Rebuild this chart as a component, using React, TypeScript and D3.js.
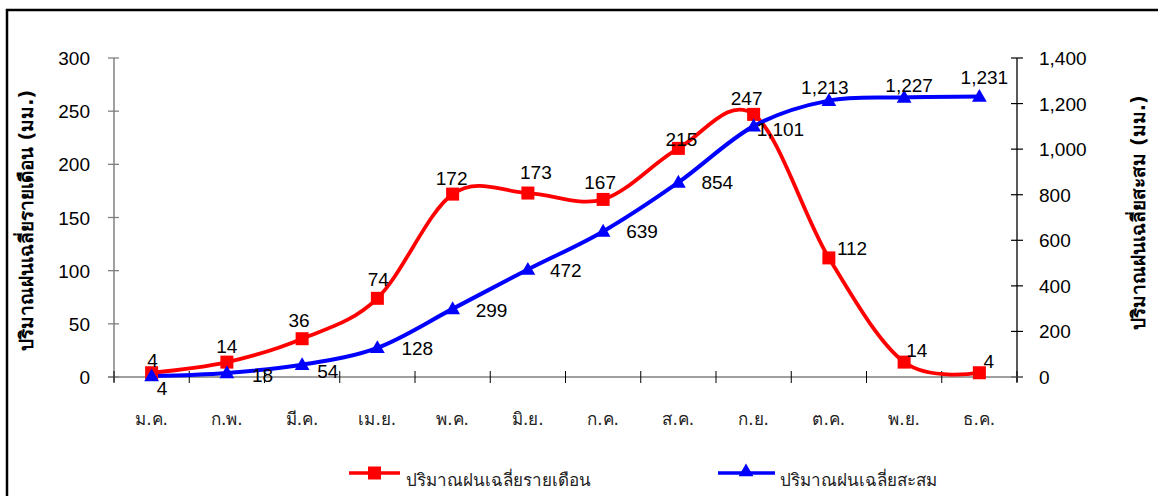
import React from "react";
import * as d3 from "d3";

const months = ["ม.ค.", "ก.พ.", "มี.ค.", "เม.ย.", "พ.ค.", "มิ.ย.", "ก.ค.", "ส.ค.", "ก.ย.", "ต.ค.", "พ.ย.", "ธ.ค."];
const monthly = [4, 14, 36, 74, 172, 173, 167, 215, 247, 112, 14, 4];
const cumulative = [4, 18, 54, 128, 299, 472, 639, 854, 1101, 1213, 1227, 1231];
const leftTicks = [0, 50, 100, 150, 200, 250, 300];
const rightTicks = [0, 200, 400, 600, 800, 1000, 1200, 1400];
const seriesNames = ["ปริมาณฝนเฉลี่ยรายเดือน", "ปริมาณฝนเฉลี่ยสะสม"];
const leftTitle = "ปริมาณฝนเฉลี่ยรายเดือน (มม.)";
const rightTitle = "ปริมาณฝนเฉลี่ยสะสม (มม.)";

// hand-placed label offsets (dx, dy of text anchor relative to marker)
const redLabelOff: [number, number, string][] = [
  [1, -6, "middle"], [0, -9, "middle"], [-3, -12, "middle"], [1, -12, "middle"],
  [-1, -9, "middle"], [8, -14, "middle"], [-3, -10, "middle"], [3, -2, "middle"],
  [-7, -9, "middle"], [8, -3, "start"], [2, -5, "start"], [4, -5, "start"],
];
const blueLabelOff: [number, number, string][] = [
  [5, 19, "start"], [25, 9, "start"], [15, 13, "start"], [24, 7, "start"],
  [23, 8, "start"], [22, 8, "start"], [23, 7, "start"], [23, 7, "start"],
  [3, 10, "start"], [-4, -7, "middle"], [5, -5, "middle"], [5, -13, "middle"],
];

const W = 1158, H = 496;
const L = 114, R = 1017, T = 58, B = 377;
const NUM_FONT = "'Liberation Sans', Arial, sans-serif";
const THAI_FONT = "Tahoma, 'DejaVu Sans', 'Liberation Sans', sans-serif";

export default function App() {
  const x = d3.scaleBand<string>().domain(months).range([L, R]);
  const cx = (i: number) => (x(months[i]) as number) + x.bandwidth() / 2;
  const yL = d3.scaleLinear().domain([0, 300]).range([B, T]);
  const yR = d3.scaleLinear().domain([0, 1400]).range([B, T]);
  const fmt = d3.format(",");
  const curve = d3.curveCatmullRom.alpha(0);
  const redLine = d3.line<number>().x((_, i) => cx(i)).y((d) => yL(d)).curve(curve)(monthly) || "";
  const blueLine = d3.line<number>().x((_, i) => cx(i)).y((d) => yR(d)).curve(curve)(cumulative) || "";
  const tri = d3.symbol().type(d3.symbolTriangle).size(95)() || "";
  const axisCol = "#808080";
  const boundaries = d3.range(months.length + 1).map((i) => L + i * x.bandwidth());

  return (
    <svg width={W} height={H} style={{ position: "absolute", left: 0, top: 0, display: "block", background: "#fff" }}>
      <rect x={7} y={10} width={1200} height={600} fill="#fff" stroke="#000" strokeWidth={2.5} />
      {/* left axis */}
      <line x1={L} x2={L} y1={T} y2={B + 5} stroke={axisCol} strokeWidth={1.5} />
      {leftTicks.map((t) => (
        <g key={"l" + t}>
          <line x1={L - 6} x2={L + 5} y1={yL(t)} y2={yL(t)} stroke={axisCol} strokeWidth={1.3} />
          <text x={90} y={yL(t) + 7} textAnchor="end" fontFamily={NUM_FONT} fontSize={19}>{t}</text>
        </g>
      ))}
      {/* right axis */}
      <line x1={R} x2={R} y1={T} y2={B + 5} stroke="#000" strokeWidth={1.3} />
      {rightTicks.map((t) => (
        <g key={"r" + t}>
          <line x1={R - 6} x2={R + 6} y1={yR(t)} y2={yR(t)} stroke="#000" strokeWidth={1.2} />
          <text x={1039} y={yR(t) + 7} textAnchor="start" fontFamily={NUM_FONT} fontSize={19}>{fmt(t)}</text>
        </g>
      ))}
      {/* x axis */}
      <line x1={L - 6} x2={R + 6} y1={B} y2={B} stroke={axisCol} strokeWidth={1.5} />
      {boundaries.map((b, i) => (
        <line key={"xt" + i} x1={b} x2={b} y1={B - 6} y2={B + 6} stroke="#000" strokeWidth={1} />
      ))}
      {months.map((m, i) => (
        <text key={m} x={cx(i)} y={425} textAnchor="middle" fontFamily={THAI_FONT} fontSize={17} fill="#222">{m}</text>
      ))}
      {/* axis titles */}
      <text transform={`translate(33,${(T + B) / 2 + 3}) rotate(-90)`} textAnchor="middle" fontFamily={THAI_FONT} fontWeight="bold" fontSize={19}>{leftTitle}</text>
      <text transform={`translate(1145,${(T + B) / 2 - 5}) rotate(-90)`} textAnchor="middle" fontFamily={THAI_FONT} fontWeight="bold" fontSize={19}>{rightTitle}</text>
      {/* series */}
      <path d={redLine} fill="none" stroke="#ff0000" strokeWidth={3.8} />
      <path d={blueLine} fill="none" stroke="#0000ff" strokeWidth={4} />
      {monthly.map((v, i) => (
        <rect key={"rs" + i} x={cx(i) - 6.5} y={yL(v) - 6.5} width={13} height={13} fill="#ff0000" />
      ))}
      {cumulative.map((v, i) => (
        <path key={"bt" + i} d={tri} transform={`translate(${cx(i)},${yR(v) + 1})`} fill="#0000ff" />
      ))}
      {monthly.map((v, i) => (
        <text key={"rl" + i} x={cx(i) + redLabelOff[i][0]} y={yL(v) + redLabelOff[i][1]} textAnchor={redLabelOff[i][2] as any} fontFamily={NUM_FONT} fontSize={19}>{fmt(v)}</text>
      ))}
      {cumulative.map((v, i) => (
        <text key={"bl" + i} x={cx(i) + blueLabelOff[i][0]} y={yR(v) + blueLabelOff[i][1]} textAnchor={blueLabelOff[i][2] as any} fontFamily={NUM_FONT} fontSize={19}>{fmt(v)}</text>
      ))}
      {/* legend */}
      <line x1={349} x2={400} y1={473} y2={473} stroke="#ff0000" strokeWidth={3.5} />
      <rect x={368} y={466.5} width={13} height={13} fill="#ff0000" />
      <text x={406} y={486} fontFamily={THAI_FONT} fontSize={17} fill="#222">{seriesNames[0]}</text>
      <line x1={718} x2={775} y1={473} y2={473} stroke="#0000ff" strokeWidth={3.5} />
      <path d={tri} transform="translate(746,472)" fill="#0000ff" />
      <text x={780} y={486} fontFamily={THAI_FONT} fontSize={17} fill="#222">{seriesNames[1]}</text>
    </svg>
  );
}
